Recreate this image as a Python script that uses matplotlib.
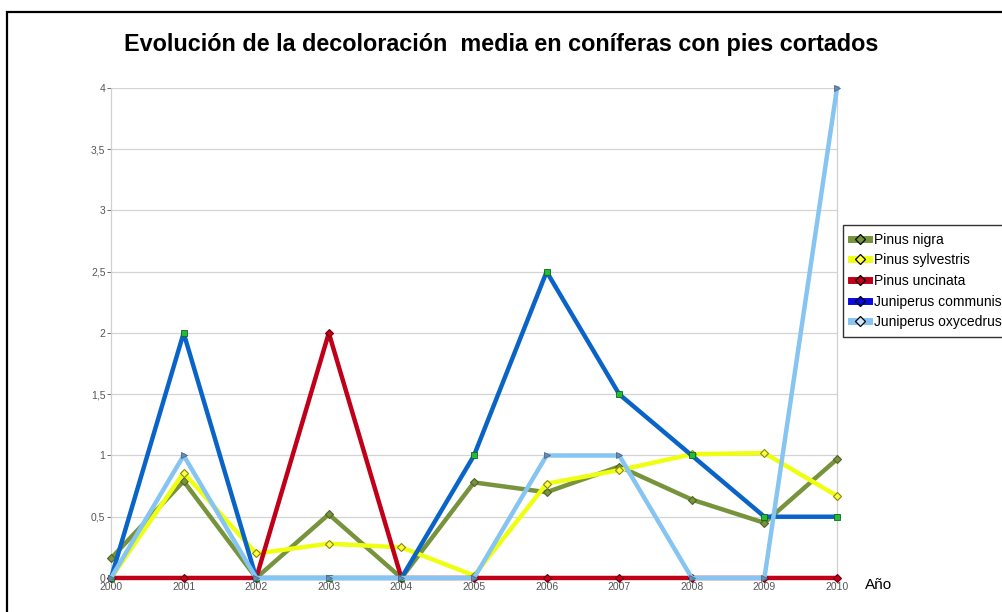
import matplotlib
matplotlib.use("Agg")
import matplotlib.pyplot as plt
from matplotlib.lines import Line2D
from matplotlib.patches import Rectangle

years = [2000, 2001, 2002, 2003, 2004, 2005, 2006, 2007, 2008, 2009, 2010]
pinus_nigra = [0.16, 0.79, 0, 0.52, 0, 0.78, 0.70, 0.91, 0.64, 0.45, 0.97]
pinus_sylvestris = [0, 0.86, 0.20, 0.28, 0.25, 0.02, 0.77, 0.88, 1.01, 1.02, 0.67]
pinus_uncinata = [0, 0, 0, 2, 0, 0, 0, 0, 0, 0, 0]
juniperus_communis = [0, 2, 0, 0, 0, 1, 2.5, 1.5, 1, 0.5, 0.5]
juniperus_oxycedrus = [0, 1, 0, 0, 0, 0, 1, 1, 0, 0, 4]
yticks = [0, 0.5, 1, 1.5, 2, 2.5, 3, 3.5, 4]
ylabels = ["0", "0,5", "1", "1,5", "2", "2,5", "3", "3,5", "4"]

fig = plt.figure(figsize=(10.03, 6.12), dpi=100)
ax = fig.add_axes([0.1107, 0.0556, 0.7238, 0.8006])

# outer frame (runs off the right and bottom edges)
fig.patches.append(Rectangle((7 / 1003, -0.05), 1.05, 1 - 12 / 612 + 0.05,
                             transform=fig.transFigure, fill=False,
                             edgecolor="black", linewidth=1.6))

lw = 3.2
ax.plot(years, pinus_nigra, color="#77933C", lw=lw, marker="D", ms=4,
        mfc="#77933C", mec="#4F6228", mew=0.8, clip_on=False, zorder=3)
ax.plot(years, pinus_sylvestris, color="#EEFF11", lw=lw, marker="D", ms=4,
        mfc="#FFFF44", mec="#888800", mew=0.8, clip_on=False, zorder=4)
ax.plot(years, pinus_uncinata, color="#C00018", lw=lw, marker="D", ms=4,
        mfc="#C00018", mec="#700010", mew=0.8, clip_on=False, zorder=5)
ax.plot(years, juniperus_communis, color="#0A64C8", lw=lw, marker="s", ms=4,
        mfc="#22BB33", mec="#116622", mew=0.6, clip_on=False, zorder=6)
ax.plot(years, juniperus_oxycedrus, color="#86C4F2", lw=lw, marker=">", ms=4,
        mfc="#6A8CB0", mec="#4A6A8A", mew=0.6, clip_on=False, zorder=7)

ax.set_xlim(2000, 2010)
ax.set_ylim(0, 4)
ax.set_xticks(years)
ax.set_xticklabels([str(y) for y in years], family="Liberation Sans")
ax.set_yticks(yticks)
ax.set_yticklabels(ylabels, family="Liberation Sans")
ax.tick_params(axis="both", labelsize=7.5, colors="#555555", length=3,
               width=0.6, pad=1)
ax.tick_params(axis="x", length=0, pad=3)
ax.grid(axis="y", color="#D4D4D4", lw=0.9)
ax.set_axisbelow(True)
for side in ["top", "bottom"]:
    ax.spines[side].set_visible(False)
for side in ["left", "right"]:
    ax.spines[side].set_color("#D0D0D0")
    ax.spines[side].set_linewidth(0.9)

fig.text(0.5, 1 - 44 / 612, "Evolución de la decoloración  media en coníferas con pies cortados",
         ha="center", va="center", fontsize=16.8, fontweight="bold",
         family="Liberation Sans")
fig.text(865 / 1003, 1 - 585 / 612, "Año", ha="left", va="center",
         fontsize=11, family="Liberation Sans")

names = ["Pinus nigra", "Pinus sylvestris", "Pinus uncinata",
         "Juniperus communis", "Juniperus oxycedrus"]
patch_colors = ["#77933C", "#EEFF11", "#C00018", "#0A0AE0", "#86C4F2"]
marker_faces = ["#77933C", "#FFFF44", "#C00018", "#0A0AE0", "#CCE6FA"]
handles = [Line2D([], [], color=c, lw=5, marker="D", ms=5, mfc=f,
                  mec="black", mew=0.9)
           for c, f in zip(patch_colors, marker_faces)]
leg = fig.legend(handles, names, loc="upper left",
                 bbox_to_anchor=(843 / 1003, 1 - 225 / 612),
                 prop={"family": "Liberation Sans", "size": 10},
                 frameon=True, fancybox=False, borderpad=0.55,
                 labelspacing=0.48, handlelength=1.3, handletextpad=0.35,
                 borderaxespad=0)
leg.get_frame().set_edgecolor("black")
leg.get_frame().set_linewidth(1.0)

fig.savefig("out.png", dpi=100)
